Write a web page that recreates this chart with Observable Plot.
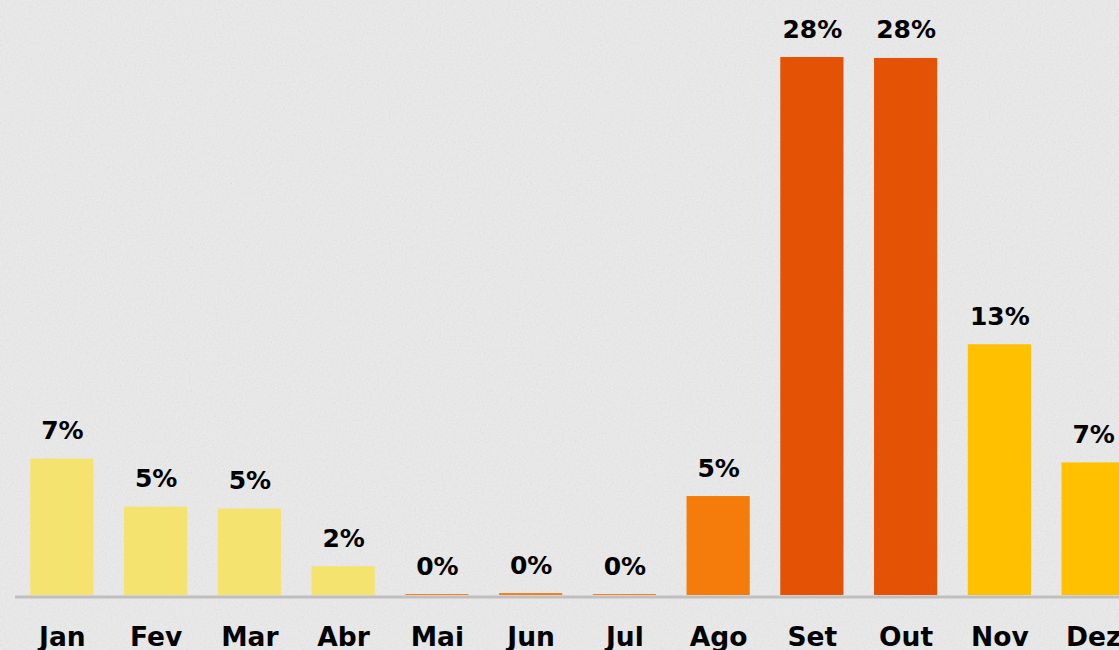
<!DOCTYPE html>
<html>
<head>
<meta charset="utf-8">
<script src="https://cdn.jsdelivr.net/npm/d3@7"></script>
<script src="https://cdn.jsdelivr.net/npm/@observablehq/plot@0.6"></script>
<style>
  html, body { margin: 0; padding: 0; overflow: hidden; }
  body {
    width: 1119px; height: 650px;
    background-color: #ebebeb;
    background-image: url("data:image/svg+xml,%3Csvg xmlns='http://www.w3.org/2000/svg' width='300' height='300'%3E%3Cfilter id='n'%3E%3CfeTurbulence type='fractalNoise' baseFrequency='0.55' numOctaves='4' stitchTiles='stitch'/%3E%3CfeColorMatrix type='saturate' values='0'/%3E%3C/filter%3E%3Crect width='300' height='300' filter='url(%23n)' opacity='0.18'/%3E%3C/svg%3E");
  }
  #chart { width: 1119px; height: 650px; overflow: hidden; }
  #chart svg { display: block; max-width: none; background: transparent; }
</style>
</head>
<body>
<div id="chart"></div>
<script>
// Data
const months = ["Jan", "Fev", "Mar", "Abr", "Mai", "Jun", "Jul", "Ago", "Set", "Out", "Nov", "Dez"];
const shares = [7.1, 4.6, 4.5, 1.5, 0.05, 0.1, 0.05, 5.15, 28, 27.95, 13.05, 6.9];
const labels = ["7%", "5%", "5%", "2%", "0%", "0%", "0%", "5%", "28%", "28%", "13%", "7%"];

// Styles
const barColors = ["#f4e36e", "#f4e36e", "#f4e36e", "#f4e36e",
                   "#f47d14", "#f47d14", "#f47d14", "#f57c0a",
                   "#e35205", "#e35205", "#ffc000", "#ffc000"];

const data = months.map((m, i) => ({month: m, value: shares[i], label: labels[i]}));

const chart = Plot.plot({
  width: 1140,
  height: 650,
  marginLeft: 15,
  marginRight: 0,
  marginTop: 57,
  marginBottom: 55,
  style: {background: "transparent", fontFamily: "'DejaVu Sans', Verdana, sans-serif", maxWidth: "none"},
  x: {domain: months, paddingInner: 0.326, paddingOuter: 0.163, round: false, label: null},
  y: {domain: [0, 28], axis: null},
  color: {domain: months, range: barColors},
  marks: [
    Plot.barY(data, {x: "month", y: "value", fill: "month"}),
    Plot.ruleY([0], {stroke: "#bfbfbf", strokeWidth: 3, dy: 1.5}),
    Plot.text(data, {x: "month", y: "value", text: "label", lineAnchor: "bottom", dy: -20,
      fontSize: 25, fontWeight: "bold", fill: "#000"}),
    Plot.axisX({tickSize: 0, tickPadding: 32, fontSize: 26.5, fontWeight: "bold", color: "#000", label: null})
  ]
});
document.getElementById("chart").appendChild(chart);
</script>
</body>
</html>
